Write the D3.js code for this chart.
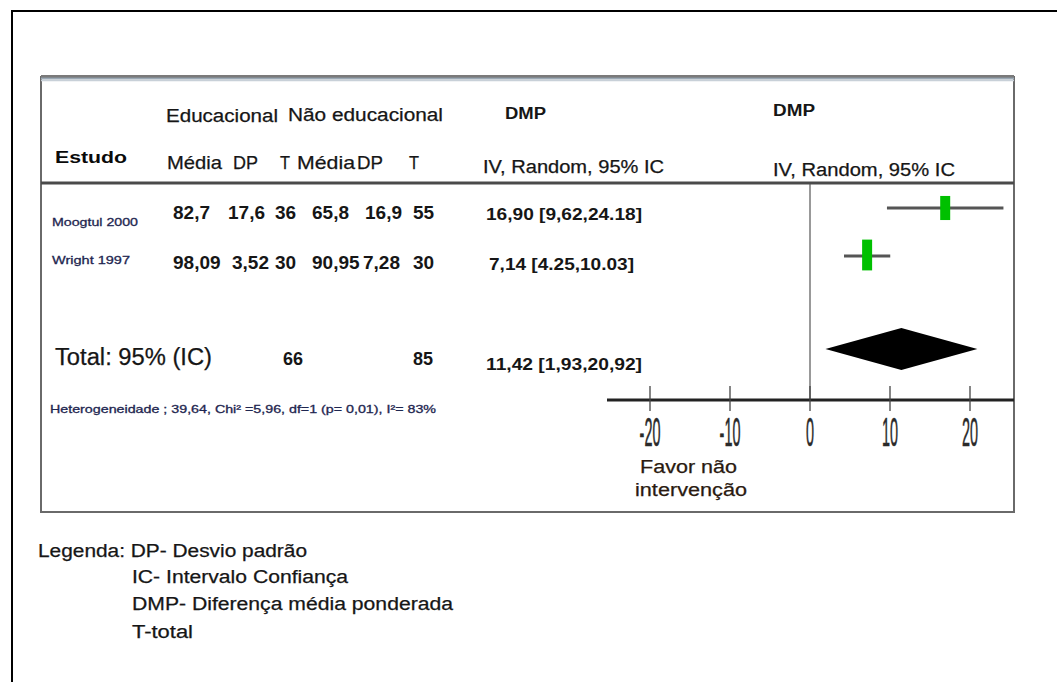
<!DOCTYPE html>
<html>
<head>
<meta charset="utf-8">
<script src="https://cdn.jsdelivr.net/npm/d3@7"></script>
<style>
  html, body { margin: 0; padding: 0; background: #fff; }
  svg { display: block; font-family: "Liberation Sans", Arial, sans-serif; }
</style>
</head>
<body>
<svg id="chart" width="1057" height="682"></svg>
<script>
// Forest plot data: educational vs non-educational intervention
const studies   = ["Moogtul 2000", "Wright 1997"];
const meanEdu   = ["82,7", "98,09"];
const sdEdu     = ["17,6", "3,52"];
const nEdu      = [36, 30];
const meanNon   = ["65,8", "90,95"];
const sdNon     = ["16,9", "7,28"];
const nNon      = [55, 30];
const effect    = [16.90, 7.14];
const ciLow     = [9.62, 4.25];
const ciHigh    = [24.18, 10.03];
const effectLabels = ["16,90 [9,62,24.18]", "7,14 [4.25,10.03]"];
const weights   = [43, 55];

const totalEdu = 66;
const totalNon = 85;
const pooled   = { est: 11.42, lo: 1.93, hi: 20.92, label: "11,42 [1,93,20,92]" };
const heterogeneity = "Heterogeneidade  ; 39,64, Chi\u00b2 =5,96, df=1 (p= 0,01), I\u00b2= 83%";

const tickValues = [-20, -10, 0, 10, 20];
const tickLabels = ["-20", "-10", "0", "10", "20"];

const legendLines = [
  "Legenda: DP- Desvio padrão",
  "IC- Intervalo Confiança",
  "DMP- Diferença média ponderada",
  "T-total"
];

const svg = d3.select("#chart");
const ink = "#161616";

// Outer page frame
svg.append("rect").attr("x", 12).attr("y", 11).attr("width", 1100).attr("height", 700)
  .attr("fill", "none").attr("stroke", "#000").attr("stroke-width", 2);

// Inner panel
svg.append("rect").attr("x", 41).attr("y", 77).attr("width", 973).attr("height", 435)
  .attr("fill", "#fff").attr("stroke", "#6a6a6a").attr("stroke-width", 2);
// panel top band
[["#7a7a7a", 76, 2], ["#9aa8b4", 78.5, 2], ["#c8d0d8", 80.5, 1.5]].forEach(([c, y, w]) => {
  svg.append("line").attr("x1", 41).attr("x2", 1014).attr("y1", y).attr("y2", y)
    .attr("stroke", c).attr("stroke-width", w);
});

// Header rule
svg.append("line").attr("x1", 41).attr("x2", 1014).attr("y1", 183).attr("y2", 183)
  .attr("stroke", "#4a4a4a").attr("stroke-width", 3);

// Scales
const x = d3.scaleLinear().domain([-20, 20]).range([650, 970]);
const rowY = d3.scalePoint().domain(studies).range([208, 256]);
const boxH = d3.scaleLinear().domain([0, 100]).range([0, 56]);

// Text helper: fixed run length keeps the column layout stable
function txt(t, px, py, opts = {}) {
  const el = svg.append("text").attr("x", px).attr("y", py)
    .attr("font-size", opts.size || 18)
    .attr("font-weight", opts.weight || "normal")
    .attr("fill", opts.fill || ink)
    .attr("stroke", opts.fill || ink).attr("stroke-width", opts.sw == null ? 0.25 : opts.sw)
    .attr("text-anchor", opts.anchor || "start")
    .text(t);
  if (opts.len) el.attr("textLength", opts.len).attr("lengthAdjust", "spacingAndGlyphs");
  return el;
}

// Column headers
txt("Educacional", 166, 122, { len: 112 });
txt("Não educacional", 288, 121, { len: 155 });
txt("DMP", 505, 119, { size: 16, weight: "bold", len: 41, sw: 0 });
txt("DMP", 773, 116, { size: 16, weight: "bold", len: 42, sw: 0 });
txt("Estudo", 55, 163, { size: 17, weight: "bold", len: 72, sw: 0, fill: "#0a0a0a" });
const subHeads = [["Média", 167, 55], ["DP", 233, 25], ["T", 280, 10], ["Média", 297, 58], ["DP", 357, 26], ["T", 409, 10]];
subHeads.forEach(([t, px, w]) => txt(t, px, 169, { size: 19, len: w }));
txt("IV, Random, 95% IC", 483, 173, { len: 181 });
txt("IV, Random, 95% IC", 773, 176, { len: 182 });

// Null line
svg.append("line").attr("x1", x(0)).attr("x2", x(0)).attr("y1", 184).attr("y2", 400)
  .attr("stroke", "#555").attr("stroke-width", 1.2);

// Study rows
const nameLen = [86, 78];
const effLen = [156, 145];
const colX = [173, [228, 232], 275, 312, [365, 363], 413];
studies.forEach((s, i) => {
  const y = rowY(s);
  txt(s, 52, y + (i ? 8 : 18), { size: 11.5, fill: "#1e2650", sw: 0.3, len: nameLen[i] });
  const vals = [meanEdu[i], sdEdu[i], nEdu[i], meanNon[i], sdNon[i], nNon[i]];
  vals.forEach((t, j) => {
    const px = Array.isArray(colX[j]) ? colX[j][i] : colX[j];
    txt(t, px, i ? 269 : 219, { size: 19, weight: "bold", sw: 0 });
  });
  txt(effectLabels[i], i ? 489 : 486, y + (i ? 14 : 12), { size: 16, weight: "bold", sw: 0, len: effLen[i] });

  svg.append("line").attr("x1", x(ciLow[i])).attr("x2", x(ciHigh[i]))
    .attr("y1", y).attr("y2", y).attr("stroke", "#555").attr("stroke-width", 3);
  const h = boxH(weights[i]);
  svg.append("rect").attr("x", x(effect[i]) - 5).attr("y", y - h / 2 + (i ? -1 : 0))
    .attr("width", 10).attr("height", h).attr("fill", "#00c000");
});

// Pooled estimate
txt("Total: 95% (IC)", 55, 365, { size: 23, len: 157 });
txt(totalEdu, 283, 365, { size: 18, weight: "bold", sw: 0 });
txt(totalNon, 413, 365, { size: 18, weight: "bold", sw: 0 });
txt(pooled.label, 486, 370, { size: 16, weight: "bold", sw: 0, len: 156 });
const dy = 349, dh = 21;
svg.append("path")
  .attr("d", `M${x(pooled.lo)},${dy} L${x(pooled.est)},${dy - dh} L${x(pooled.hi)},${dy} L${x(pooled.est)},${dy + dh} Z`)
  .attr("fill", "#000");

txt(heterogeneity, 50, 413, { size: 11, fill: "#1e2650", sw: 0.3, len: 386 });

// Axis
svg.append("line").attr("x1", 607).attr("x2", 1014).attr("y1", 400).attr("y2", 400)
  .attr("stroke", "#222").attr("stroke-width", 3);
const ticks = svg.append("g");
tickValues.forEach((v, i) => {
  ticks.append("line").attr("x1", x(v)).attr("x2", x(v)).attr("y1", 386).attr("y2", 411)
    .attr("stroke", "#444").attr("stroke-width", 1.3);
  ticks.append("text")
    .attr("transform", `translate(${x(v)},446) scale(0.36,1)`)
    .attr("text-anchor", "middle").attr("font-size", 40).attr("fill", "#2a2a2a")
    .attr("stroke", "#2a2a2a").attr("stroke-width", 0.6)
    .text(tickLabels[i]);
});

txt("Favor não", 640, 473, { size: 18, fill: "#2a1a10", len: 97 });
txt("intervenção", 635, 496, { size: 18, fill: "#2a1a10", len: 112 });

// Legend
txt(legendLines[0], 38, 557, { len: 269 });
const legY = [583, 610, 638], legLen = [216, 321, 61];
legendLines.slice(1).forEach((t, i) => txt(t, 132, legY[i], { len: legLen[i] }));
</script>
</body>
</html>
